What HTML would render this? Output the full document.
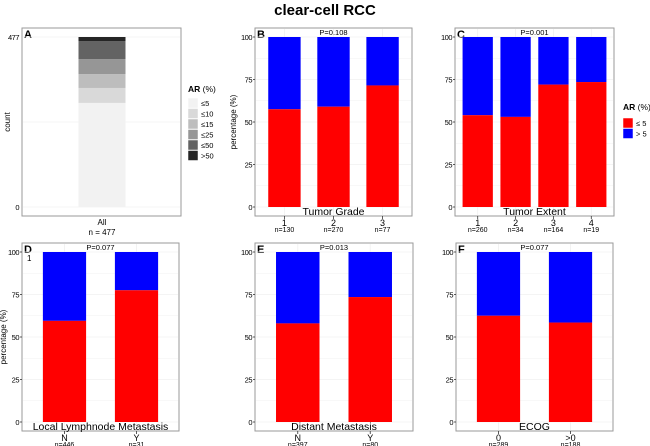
<!DOCTYPE html>
<html><head><meta charset="utf-8">
<style>
body{margin:0;background:#fff;}
svg{display:block;font-family:"Liberation Sans",sans-serif;}
</style></head>
<body>
<svg id="chart" width="650" height="446" viewBox="0 0 650 446" xmlns="http://www.w3.org/2000/svg">
<text x="325" y="15" text-anchor="middle" font-size="15" font-weight="bold">clear-cell RCC</text>
</svg>
<script>
// Panel A data (counts by AR bin)
const arBins = ["≤5","≤10","≤15","≤25","≤50",">50"];
const arCounts = [292, 42, 39, 42, 50, 12];
const arColors = ["#f2f2f2","#d9d9d9","#bdbdbd","#969696","#636363","#252525"];
// Panels B-F: percentage AR<=5
const gradeCats = ["1","2","3"];
const gradeN = ["n=130","n=270","n=77"];
const gradeLow = [57.5, 59, 71.5];
const extentCats = ["1","2","3","4"];
const extentN = ["n=260","n=34","n=164","n=19"];
const extentLow = [54, 53, 72, 73.5];
const lymphCats = ["N","Y"];
const lymphN = ["n=446","n=31"];
const lymphLow = [59.5, 77.5];
const distCats = ["N","Y"];
const distN = ["n=397","n=80"];
const distLow = [58, 73.5];
const ecogCats = ["0",">0"];
const ecogN = ["n=289","n=188"];
const ecogLow = [62.5, 58.5];
const pctTicks = [0,25,50,75,100];

const svg = document.getElementById('chart');
const NS = "http://www.w3.org/2000/svg";
function el(tag, attrs, text){
  const e = document.createElementNS(NS, tag);
  for (const k in attrs) e.setAttribute(k, attrs[k]);
  if (text !== undefined) e.textContent = text;
  svg.appendChild(e);
  return e;
}

function frame(x0,x1,y0,y1,letter,name){
  const r = el('rect',{x:x0,y:y0,width:x1-x0,height:y1-y0,fill:'#fff',stroke:'#9a9a9a','stroke-width':1});
  
  
  const t = el('text',{x:x0+2,y:y0+10,'font-size':11,'font-weight':'bold'},letter);
  
  
}

function pctPanel(cfg){
  const {x0,x1,y0,y1,yTop,yBot,letter,name,cats,ns,low,p,title,barW} = cfg;
  frame(x0,x1,y0,y1,letter,name);
  const ys = v => yBot - (yBot-yTop)*v/100;
  for (let v=0; v<=100; v+=12.5){
    const g = el('line',{x1:x0+1,x2:x1-1,y1:ys(v),y2:ys(v),stroke:'#f0f0f0','stroke-width':v%25===0?0.8:0.5});
    
    
  }
  const n = cats.length;
  const inner = x1-x0;
  const step = inner/(n + (n===2?0.18:0.2));
  const pad = (inner - step*n)/2;
  const xc = i => x0 + pad + step*(i+0.5);
  const bw = step*barW;
  for (let i=0;i<n;i++){
    const vg = el('line',{x1:xc(i),x2:xc(i),y1:y0+1,y2:y1-1,stroke:'#f0f0f0','stroke-width':0.8});
    
    
  }
  for (let i=0;i<n;i++){
    const hi = el('rect',{x:xc(i)-bw/2,y:ys(100),width:bw,height:ys(low[i])-ys(100),fill:'#0000ff'});
    
    
    const lo = el('rect',{x:xc(i)-bw/2,y:ys(low[i]),width:bw,height:ys(0)-ys(low[i]),fill:'#ff0000'});
    
    
    const tk = el('line',{x1:xc(i),x2:xc(i),y1:y1,y2:y1+3,stroke:'#333','stroke-width':0.8});
    
    
    const c = el('text',{x:xc(i),y:y1+10,'text-anchor':'middle','font-size':9},cats[i]);
    
    
    const nt = el('text',{x:xc(i),y:y1+16,'text-anchor':'middle','font-size':7},ns[i]);
    
    
  }
  for (const v of pctTicks){
    const tl = el('text',{x:x0-3,y:ys(v)+3,'text-anchor':'end','font-size':7.5,'letter-spacing':'-0.5'},String(v));
    
    
    const tk = el('line',{x1:x0-2,x2:x0,y1:ys(v),y2:ys(v),stroke:'#333','stroke-width':0.8});
    
    
  }
  const pt = el('text',{x:(x0+x1)/2,y:y0+7,'text-anchor':'middle','font-size':7.5},p);
  
  
  const tt = el('text',{x:(x0+x1)/2,y:y1-1,'text-anchor':'middle','font-size':10.5},title);
  
  
  if (cfg.yTitleX){
    const yt = el('text',{x:cfg.yTitleX,y:(yTop+yBot)/2,'text-anchor':'middle','font-size':8,transform:`rotate(-90 ${cfg.yTitleX} ${(yTop+yBot)/2})`},'percentage (%)');
    
    
  }
  return {xc,ys};
}

// Panel A
(function(){
  const x0=22,x1=181,y0=28,y1=216,yTop=37,yBot=207;
  frame(x0,x1,y0,y1,'A','panel-a');
  const total = arCounts.reduce((a,b)=>a+b,0);
  const ys = v => yBot - (yBot-yTop)*v/total;
  [0,total/2,total].forEach(v=>{
    const g = el('line',{x1:x0+1,x2:x1-1,y1:ys(v),y2:ys(v),stroke:'#f0f0f0','stroke-width':0.8});
    
    
  });
  const xc = (x0+x1)/2+0.5, bw=47;
  let cum=0;
  for (let i=0;i<arCounts.length;i++){
    const r = el('rect',{x:xc-bw/2,y:ys(cum+arCounts[i]),width:bw,height:ys(cum)-ys(cum+arCounts[i]),fill:arColors[i]});
    
    
    cum+=arCounts[i];
  }
  [[0,'0'],[total,String(total)]].forEach(([v,l])=>{
    const t = el('text',{x:x0-3,y:ys(v)+3,'text-anchor':'end','font-size':7.5,'letter-spacing':'-0.5'},l);
    
    
  });
  const yt = el('text',{x:10,y:122,'text-anchor':'middle','font-size':8,transform:'rotate(-90 10 122)'},'count');
  
  
  const a1 = el('text',{x:xc,y:225,'text-anchor':'middle','font-size':8},'All');
  
  
  const a2 = el('text',{x:xc,y:235,'text-anchor':'middle','font-size':8},'n = 477');
  
  
  const lt = el('text',{x:188,y:92,'font-size':8.5});
  
  
  lt.innerHTML = '<tspan font-weight="bold">AR</tspan> (%)';
  for (let i=0;i<arBins.length;i++){
    const r = el('rect',{x:188,y:98+i*10.5,width:10,height:10,fill:arColors[i],stroke:'#fff','stroke-width':0.5});
    
    
    const t = el('text',{x:201,y:106+i*10.5,'font-size':7.5},arBins[i]);
    
    
  }
})();

pctPanel({x0:255,x1:412,y0:28,y1:216,yTop:37,yBot:207,letter:'B',name:'panel-b',cats:gradeCats,ns:gradeN,low:gradeLow,p:'P=0.108',title:'Tumor Grade',barW:0.66,yTitleX:236});
pctPanel({x0:455,x1:614,y0:28,y1:216,yTop:37,yBot:207,letter:'C',name:'panel-c',cats:extentCats,ns:extentN,low:extentLow,p:'P=0.001',title:'Tumor Extent',barW:0.8});
pctPanel({x0:22,x1:179,y0:243,y1:431,yTop:252,yBot:422,letter:'D',name:'panel-d',cats:lymphCats,ns:lymphN,low:lymphLow,p:'P=0.077',title:'Local Lymphnode Metastasis',barW:0.6,yTitleX:6});
pctPanel({x0:255,x1:413,y0:243,y1:431,yTop:252,yBot:422,letter:'E',name:'panel-e',cats:distCats,ns:distN,low:distLow,p:'P=0.013',title:'Distant Metastasis',barW:0.6});
pctPanel({x0:456,x1:613,y0:243,y1:431,yTop:252,yBot:422,letter:'F',name:'panel-f',cats:ecogCats,ns:ecogN,low:ecogLow,p:'P=0.077',title:'ECOG',barW:0.6});

const one = el('text',{x:27,y:261,'font-size':8},'1');



const lt2 = el('text',{x:623,y:110,'font-size':8.5});


lt2.innerHTML = '<tspan font-weight="bold">AR</tspan> (%)';
[['#ff0000','≤ 5'],['#0000ff','> 5']].forEach(([c,l],i)=>{
  const r = el('rect',{x:623,y:118+i*10.5,width:10,height:10,fill:c,stroke:'#fff','stroke-width':0.5});
  
  
  const t = el('text',{x:636,y:126+i*10.5,'font-size':7.5},l);
  
  
});
</script>
</body></html>
